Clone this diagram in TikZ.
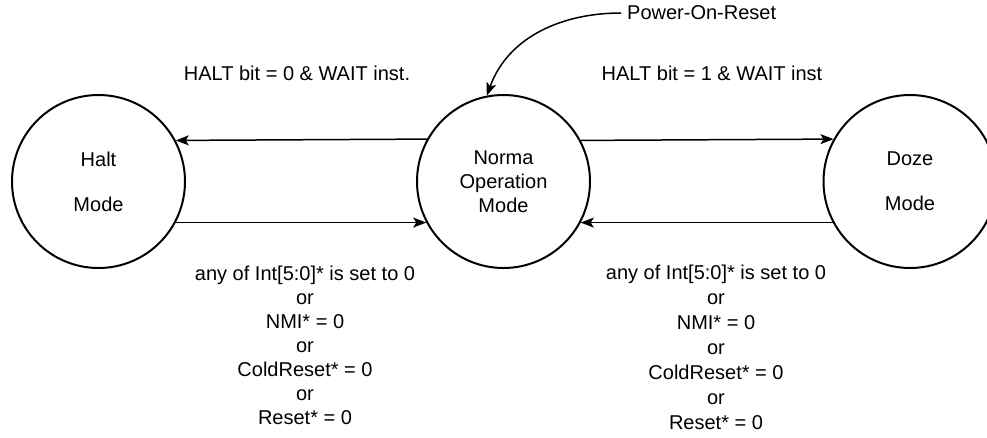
\documentclass[tikz,border=0pt]{standalone}
\usepackage{fontspec}
\setmainfont{Liberation Sans}
\usetikzlibrary{arrows.meta,positioning}
\definecolor{ink}{HTML}{000000}
\tikzset{>={Stealth[length=13pt,width=10pt,inset=3pt]},
  every node/.style={font=\fontsize{20}{24}\selectfont},
  mode/.style={circle,draw=ink,line width=2pt,minimum size=173pt,inner sep=0pt,align=center},
  trans/.style={->,draw=ink,line width=1.5pt},
  cond/.style={align=center,inner sep=0pt}}
\begin{document}
\begin{tikzpicture}[x=1pt,y=-1pt]
\useasboundingbox (0,0) rectangle (987,437);
\node[mode] (halt) at (98.5,181.5) {Halt\\[21pt]Mode};
\node[mode] (norma) at (503.5,181.5) {Norma\\Operation\\Mode};
\node[mode] (doze) at (910,181.5) {Doze\\[21pt]Mode};
\draw[trans] (norma.151.3) -- (halt.28.7);
\draw[trans] (halt.-28.7) -- (norma.208.7);
\draw[trans] (norma.28.7) -- (doze.151.3);
\draw[trans] (doze.208.7) -- (norma.-28.7);
\node[anchor=west,inner sep=0pt] (por) at (627,13) {Power-On-Reset};
\draw[trans,shorten <=6pt] (por.west) to[out=180,in=70] (norma.101);
\node (haltlbl) at (297,73) {HALT bit = 0 \& WAIT inst.};
\node (dozelbl) at (712,73) {HALT bit = 1 \& WAIT inst};
\node[cond] (wakehalt) at (305,345) {any of Int[5:0]* is set to 0\\or\\NMI* = 0\\or\\ColdReset* = 0\\or\\Reset* = 0};
\node[cond,font=\fontsize{20}{25}\selectfont] (wakedoze) at (716,347) {any of Int[5:0]* is set to 0\\or\\NMI* = 0\\or\\ColdReset* = 0\\or\\Reset* = 0};
\end{tikzpicture}
\end{document}
